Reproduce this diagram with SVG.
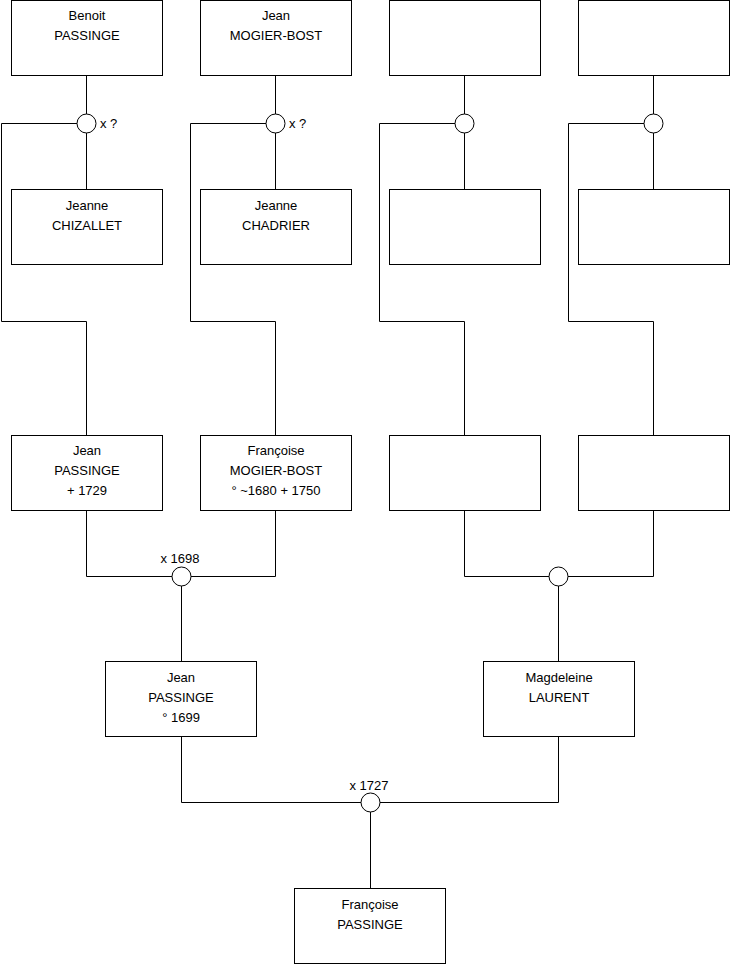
<svg xmlns="http://www.w3.org/2000/svg" width="740" height="975" viewBox="0 0 740 975">
<style>
.box{fill:#fff;stroke:#000;stroke-width:1}
.c{fill:#fff;stroke:#000;stroke-width:1}
.ln{fill:none;stroke:#000;stroke-width:1}
text{font-family:"Liberation Sans",Arial,sans-serif;font-size:13px;fill:#000}
.m{text-anchor:middle}
</style>
<rect width="740" height="975" fill="#fff"/>
<g id="connectors">
<path class="ln" d="M86.5,75.5V189.5 M77,123.5H1.5V321.5H86.5V435.5"/>
<path class="ln" d="M275.5,75.5V189.5 M266,123.5H190.5V321.5H275.5V435.5"/>
<path class="ln" d="M464.5,75.5V189.5 M455,123.5H379.5V321.5H464.5V435.5"/>
<path class="ln" d="M653.5,75.5V189.5 M644,123.5H568.5V321.5H653.5V435.5"/>
<path class="ln" d="M86.5,510.5V576.5H275.5V510.5 M181.5,576.5V661.5"/>
<path class="ln" d="M464.5,510.5V576.5H653.5V510.5 M558.5,576.5V661.5"/>
<path class="ln" d="M181.5,736.5V802.5H558.5V736.5 M370.5,802.5V888.5"/>
<circle class="c" cx="86.5" cy="123.5" r="9.5"/>
<circle class="c" cx="275.5" cy="123.5" r="9.5"/>
<circle class="c" cx="464.5" cy="123.5" r="9.5"/>
<circle class="c" cx="653.5" cy="123.5" r="9.5"/>
<circle class="c" cx="181.5" cy="576.5" r="9.5"/>
<circle class="c" cx="558.5" cy="576.5" r="9.5"/>
<circle class="c" cx="370.5" cy="802.5" r="9.5"/>
<text x="100" y="128">x ?</text>
<text x="289" y="128">x ?</text>
<text class="m" x="180" y="563">x 1698</text>
<text class="m" x="369" y="790">x 1727</text>
</g>
<g id="benoit-passinge"><rect class="box" x="11.5" y="0.5" width="151" height="75"/><text class="m" x="87" y="19.5">Benoit</text><text class="m" x="87" y="39.5">PASSINGE</text></g>
<g id="jean-mogier-bost"><rect class="box" x="200.5" y="0.5" width="151" height="75"/><text class="m" x="276" y="19.5">Jean</text><text class="m" x="276" y="39.5">MOGIER-BOST</text></g>
<g id="unknown-1"><rect class="box" x="389.5" y="0.5" width="151" height="75"/></g>
<g id="unknown-2"><rect class="box" x="578.5" y="0.5" width="151" height="75"/></g>
<g id="jeanne-chizallet"><rect class="box" x="11.5" y="189.5" width="151" height="75"/><text class="m" x="87" y="209.5">Jeanne</text><text class="m" x="87" y="229.5">CHIZALLET</text></g>
<g id="jeanne-chadrier"><rect class="box" x="200.5" y="189.5" width="151" height="75"/><text class="m" x="276" y="209.5">Jeanne</text><text class="m" x="276" y="229.5">CHADRIER</text></g>
<g id="unknown-3"><rect class="box" x="389.5" y="189.5" width="151" height="75"/></g>
<g id="unknown-4"><rect class="box" x="578.5" y="189.5" width="151" height="75"/></g>
<g id="jean-passinge-1729"><rect class="box" x="11.5" y="435.5" width="151" height="75"/><text class="m" x="87" y="455">Jean</text><text class="m" x="87" y="475">PASSINGE</text><text class="m" x="87" y="495">+ 1729</text></g>
<g id="francoise-mogier-bost"><rect class="box" x="200.5" y="435.5" width="151" height="75"/><text class="m" x="276" y="455">Françoise</text><text class="m" x="276" y="475">MOGIER-BOST</text><text class="m" x="276" y="495">° ~1680 + 1750</text></g>
<g id="unknown-5"><rect class="box" x="389.5" y="435.5" width="151" height="75"/></g>
<g id="unknown-6"><rect class="box" x="578.5" y="435.5" width="151" height="75"/></g>
<g id="jean-passinge-1699"><rect class="box" x="105.5" y="661.5" width="151" height="75"/><text class="m" x="181" y="681.5">Jean</text><text class="m" x="181" y="701.5">PASSINGE</text><text class="m" x="181" y="721.5">° 1699</text></g>
<g id="magdeleine-laurent"><rect class="box" x="483.5" y="661.5" width="151" height="75"/><text class="m" x="559" y="681.5">Magdeleine</text><text class="m" x="559" y="701.5">LAURENT</text></g>
<g id="francoise-passinge"><rect class="box" x="294.5" y="888.5" width="151" height="75"/><text class="m" x="370" y="908.5">Françoise</text><text class="m" x="370" y="928.5">PASSINGE</text></g>
</svg>
